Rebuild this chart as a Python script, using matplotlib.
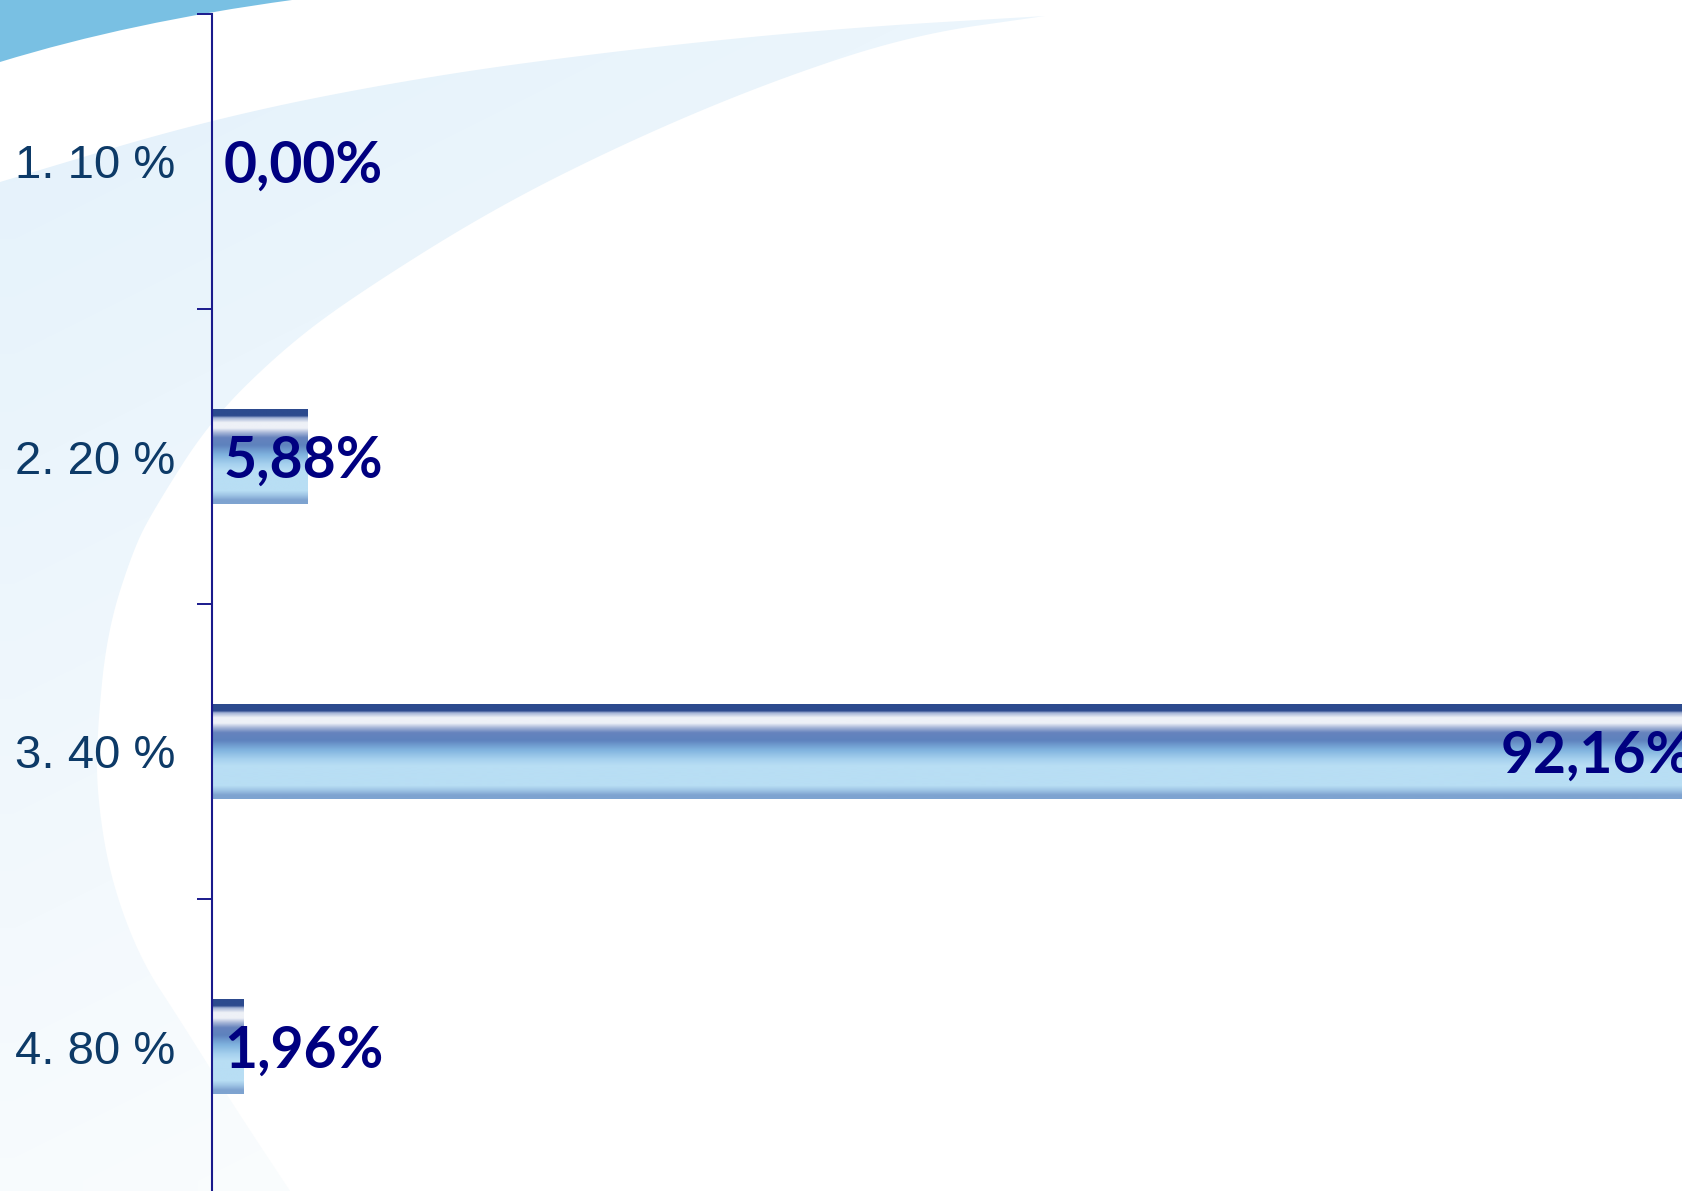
import numpy as np
import matplotlib.pyplot as plt
from matplotlib.path import Path
from matplotlib.patches import PathPatch, Polygon
from matplotlib.colors import LinearSegmentedColormap, to_rgb

# data
categories = ['1. 10 %', '2. 20 %', '3. 40 %', '4. 80 %']
shares = [0.00, 5.88, 92.16, 1.96]
share_labels = ['0,00%', '5,88%', '92,16%', '1,96%']

W, H = 1683, 1191
axis_col = '#1a1a8c'
label_col = '#000080'
cat_col = '#0d3a67'

fig = plt.figure(figsize=(W / 100, H / 100), dpi=100)


def chaikin(pts, n=4): # smooth a polyline, keeps the end points
    pts = np.asarray(pts, float)
    for _ in range(n):
        q = 0.75 * pts[:-1] + 0.25 * pts[1:]
        r = 0.25 * pts[:-1] + 0.75 * pts[1:]
        mid = np.empty((2 * len(q), 2))
        mid[0::2] = q
        mid[1::2] = r
        pts = np.vstack([pts[:1], mid, pts[-1:]])
    return pts


#%% background swoosh, drawn in pixel coords
bg = fig.add_axes([0, 0, 1, 1], zorder=0)
bg.axis('off')

upper = chaikin([(0, 182), (210, 119), (421, 77), (631, 49), (842, 28), (1045, 16)])
lower = chaikin([(1045, 16), (912, 35), (772, 81), (631, 140), (491, 210), (351, 298),
                 (281, 351), (210, 421), (154, 509), (133, 550), (107, 632), (97, 734),
                 (97, 795), (110, 877), (140, 959), (180, 1020), (230, 1100), (290, 1191)])
outline = np.vstack([upper, lower, [(0, 1191)]])
swoosh = Polygon(outline, closed=True, facecolor='none', edgecolor='none')
bg.add_patch(swoosh)

gy, gx = np.mgrid[0:1:60j, 0:1:60j]
t = np.clip(0.85 * gy + 0.6 * gx, 0, 1)[..., None]
c_top = np.array(to_rgb('#e3f1fb'))
c_bot = np.array(to_rgb('#fbfdfe'))
im = bg.imshow(c_top * (1 - t) + c_bot * t, extent=[0, W, H, 0],
               aspect='auto', interpolation='bilinear')
im.set_clip_path(swoosh)

corner = PathPatch(Path([(0, 0), (292, 0), (130, 22), (0, 62), (0, 0)],
                        [Path.MOVETO, Path.LINETO, Path.CURVE3, Path.CURVE3, Path.CLOSEPOLY]),
                   facecolor='#79c0e3', edgecolor='none')
bg.add_patch(corner)
bg.set_xlim(0, W)
bg.set_ylim(H, 0)

#%% bar chart
ax = fig.add_axes([212 / W, -3 / H, 1 - 212 / W, 1180 / H], zorder=1)
ax.patch.set_alpha(0)

ypos = np.arange(len(categories))
bars = ax.barh(ypos, shares, height=0.32, color='none', edgecolor='none')

# glossy vertical gradient used inside every bar
stops = [(0.00, '#2c4a8e'), (0.07, '#2c4a8e'), (0.09, '#9fafd3'), (0.14, '#eef1f7'),
         (0.20, '#eef1f7'), (0.25, '#a3b3d6'), (0.30, '#6683bd'), (0.38, '#5e82be'),
         (0.48, '#7fb2de'), (0.58, '#a6d1ee'), (0.65, '#b8def4'), (0.86, '#b8def4'),
         (0.91, '#9ec4e5'), (0.96, '#7ea3d0'), (1.00, '#7ea3d0')]
gloss = LinearSegmentedColormap.from_list('gloss', stops)
grad = np.linspace(0, 1, 256)[:, None]

for b in bars:
    if b.get_width() <= 0:
        continue
    x0, y0, w, h = b.get_x(), b.get_y(), b.get_width(), b.get_height()
    g = ax.imshow(grad, cmap=gloss, extent=[x0, x0 + w, y0 + h, y0],
                  aspect='auto', interpolation='bilinear', zorder=2)
    g.set_clip_path(b)

# big bar gets its label at the end, the others at the base
for i, (v, lab) in enumerate(zip(shares, share_labels)):
    if v > 50:
        ax.annotate(lab, (v, i), xytext=(-16, -15), textcoords='offset points',
                    ha='right', va='baseline', fontsize=41, fontweight='bold',
                    family='Lato', color=label_col, zorder=3, annotation_clip=False)
    else:
        ax.annotate(lab, (0, i), xytext=(8.5, -15), textcoords='offset points',
                    ha='left', va='baseline', fontsize=41, fontweight='bold',
                    family='Lato', color=label_col, zorder=3)

ax.set_xlim(0, 90.2)
ax.set_ylim(len(categories) - 0.5, -0.5)

ax.set_yticks(ypos)
ax.set_yticklabels(categories, fontsize=34, color=cat_col, family='Liberation Sans')
ax.set_yticks(np.arange(len(categories) + 1) - 0.5, minor=True)
ax.tick_params(axis='y', which='major', length=0, pad=26.5)
ax.tick_params(axis='y', which='minor', length=10.8, width=1.4, color=axis_col)
ax.xaxis.set_visible(False)
for s in ['top', 'right', 'bottom']:
    ax.spines[s].set_visible(False)
ax.spines['left'].set_color(axis_col)
ax.spines['left'].set_linewidth(1.5)

fig.savefig('out.png', dpi=100)
